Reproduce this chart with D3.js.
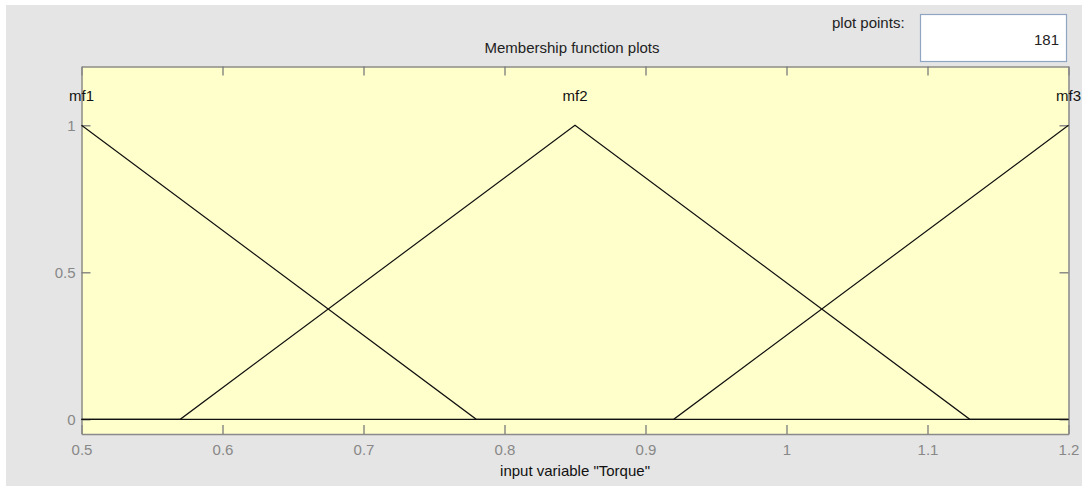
<!DOCTYPE html>
<html>
<head>
<meta charset="utf-8">
<script src="https://cdn.jsdelivr.net/npm/d3@7"></script>
<style>
  html, body { margin: 0; padding: 0; background: #fff; }
  svg { display: block; }
  text { font-family: "Liberation Sans", Arial, sans-serif; }
</style>
</head>
<body>
<div id="chart"></div>
<script>
// membership functions (vertices over the input range)
const mfNames = ["mf1", "mf2", "mf3"];
const mfPeaks = [0.5, 0.85, 1.2];
const mf1Pts = [[0.5, 1], [0.78, 0], [1.2, 0]];
const mf2Pts = [[0.5, 0], [0.57, 0], [0.85, 1], [1.13, 0], [1.2, 0]];
const mf3Pts = [[0.5, 0], [0.92, 0], [1.2, 1]];
const xTicks = [0.5, 0.6, 0.7, 0.8, 0.9, 1, 1.1, 1.2];
const yTicks = [0, 0.5, 1];
const plotPoints = 181;

const W = 1082, H = 486;
const margin = { left: 81.5, right: 13.5, top: 66.5, bottom: 52 };

let svg = d3.select("#chart").append("svg")
  .attr("width", W).attr("height", H);

//gray panel
svg.append("rect")
  .attr("x", 6).attr("y", 5).attr("width", W - 6).attr("height", H - 5)
  .attr("fill", "#e5e5e5");

const x = d3.scaleLinear().domain([0.5, 1.2]).range([margin.left, W - margin.right]);
const y = d3.scaleLinear().domain([-0.05, 1.2]).range([H - margin.bottom, margin.top]);

//plot area
svg.append("rect")
  .attr("x", x(0.5)).attr("y", y(1.2))
  .attr("width", x(1.2) - x(0.5)).attr("height", y(-0.05) - y(1.2))
  .attr("fill", "#ffffcc");

//axes, ticks pointing inward, mirrored on top and right
const tickLen = 9;
const gray = "#7a7a7a";
let axB = svg.append("g").attr("transform", `translate(0,${y(-0.05)})`)
  .call(d3.axisBottom(x).tickValues(xTicks).tickSizeInner(-tickLen).tickSizeOuter(0)
    .tickPadding(10).tickFormat(d3.format("")));
let axT = svg.append("g").attr("transform", `translate(0,${y(1.2)})`)
  .call(d3.axisTop(x).tickValues(xTicks).tickSizeInner(-tickLen).tickSizeOuter(0)
    .tickFormat(""));
let axL = svg.append("g").attr("transform", `translate(${x(0.5)},0)`)
  .call(d3.axisLeft(y).tickValues(yTicks).tickSizeInner(-tickLen).tickSizeOuter(0)
    .tickPadding(6).tickFormat(d3.format("")));
let axR = svg.append("g").attr("transform", `translate(${x(1.2)},0)`)
  .call(d3.axisRight(y).tickValues(yTicks).tickSizeInner(-tickLen).tickSizeOuter(0)
    .tickFormat(""));

[axB, axT, axL, axR].forEach(ax => {
  ax.select(".domain").attr("stroke", "#8a8a8a").attr("stroke-width", 1.5);
  ax.selectAll(".tick line").attr("stroke", gray).attr("stroke-width", 1.3);
  ax.selectAll(".tick text").attr("fill", "#888").attr("font-size", 15)
    .attr("font-family", "'Liberation Sans', Arial, sans-serif");
});

//membership function lines
const line = d3.line().x(d => x(d[0])).y(d => y(d[1]));
svg.append("g").selectAll("path")
  .data([mf1Pts, mf2Pts, mf3Pts])
  .join("path")
  .attr("d", line)
  .attr("fill", "none")
  .attr("stroke", "#111")
  .attr("stroke-width", 1.2);

//mf labels above the peaks
svg.append("g").selectAll("text")
  .data(mfNames)
  .join("text")
  .attr("x", (d, i) => x(mfPeaks[i]))
  .attr("y", 101)
  .attr("text-anchor", "middle")
  .attr("font-size", 15)
  .attr("fill", "#111")
  .text(d => d);

//titles
svg.append("text")
  .attr("x", 572).attr("y", 53)
  .attr("text-anchor", "middle").attr("font-size", 15).attr("fill", "#222")
  .text("Membership function plots");
svg.append("text")
  .attr("x", (x(0.5) + x(1.2)) / 2).attr("y", 476)
  .attr("text-anchor", "middle").attr("font-size", 15).attr("fill", "#111")
  .text('input variable "Torque"');

//plot points box
svg.append("text")
  .attr("x", 832).attr("y", 28)
  .attr("font-size", 15).attr("fill", "#222")
  .text("plot points:");
svg.append("rect")
  .attr("x", 920.5).attr("y", 14.5).attr("width", 146).attr("height", 47)
  .attr("fill", "#fff").attr("stroke", "#8fa5c2").attr("stroke-width", 1.2);
svg.append("text")
  .attr("x", 1059).attr("y", 44.5)
  .attr("text-anchor", "end").attr("font-size", 15).attr("fill", "#222")
  .text(plotPoints);
</script>
</body>
</html>
